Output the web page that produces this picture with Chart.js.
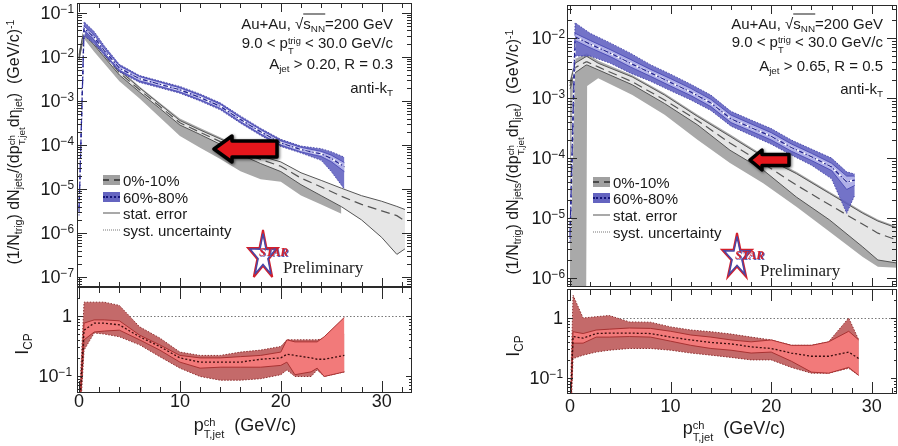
<!DOCTYPE html>
<html>
<head>
<meta charset="utf-8">
<title>Jet spectra and ICP</title>
<script src="https://cdn.jsdelivr.net/npm/chart.js@4.4.1/dist/chart.umd.min.js"></script>
<style>
  body { margin: 0; width: 898px; height: 446px; position: relative; overflow: hidden; background: #fff;
         font-family: "Liberation Sans", Arial, Helvetica, sans-serif; color: #1a1a1a; }
  canvas { position: absolute; }
  .t { position: absolute; white-space: nowrap; line-height: 1; }
  .tick { font-size: 18px; }
  .e { position: relative; top: -0.5em; font-size: 0.66em; }
  .sb { position: relative; top: 0.32em; font-size: 0.66em; }
  .ss { display: inline-block; vertical-align: -0.6em; font-size: 0.62em; line-height: 1.02; }
  .ss span { display: block; }
  .note { font-size: 15px; }
  .leg { font-size: 15px; }
  .ytitle { font-size: 16px; }
  .xtitle { font-size: 18px; }
  .sq { border-top: 1px solid #1a1a1a; }
  .star { font: italic bold 12px "Liberation Serif", serif; color: #d3202c; text-shadow: 1px 1px 0 #5a58b0; }
  .prel { font: 17px "Liberation Serif", "Times New Roman", serif; color: #222; }
</style>
</head>
<body>
<canvas id="topL" width="337" height="286" style="left:76px;top:2px"></canvas>
<canvas id="botL" width="337" height="108" style="left:76px;top:286px"></canvas>
<canvas id="topR" width="332" height="284" style="left:566px;top:4px"></canvas>
<canvas id="botR" width="332" height="107" style="left:566px;top:288px"></canvas>
<svg id="deco" width="898" height="446" style="position:absolute;left:0;top:0;pointer-events:none"></svg>
<script>
// ---- left: A_jet > 0.20, R = 0.3 ----
const L_GRAY_X = [0, 0.5, 1.5, 2.5, 4, 6, 8, 10, 12, 14, 16, 18, 20, 22, 24, 26, 28, 30, 31.5, 32.3];
const L_GRAY_MID = [1.0e-2, 3.7e-2, 2.1e-2, 1.12e-2, 4.4e-3, 1.8e-3, 7.6e-4, 3.2e-4, 1.95e-4, 1.2e-4, 7.2e-5, 4.7e-5, 3.3e-5, 1.78e-5, 1.12e-5, 6.9e-6, 4.5e-6, 3.2e-6, 2.5e-6, 1.9e-6];
const L_GRAY_STAT_HI = [1.12e-2, 4.15e-2, 2.36e-2, 1.26e-2, 4.9e-3, 2.0e-3, 8.5e-4, 3.6e-4, 2.2e-4, 1.38e-4, 8.5e-5, 5.65e-5, 4.15e-5, 2.35e-5, 1.58e-5, 1.05e-5, 7.1e-6, 5.3e-6, 4.05e-6, 3.45e-6];
const L_GRAY_STAT_LO = [8.9e-3, 3.3e-2, 1.87e-2, 1.0e-2, 3.9e-3, 1.6e-3, 6.8e-4, 2.85e-4, 1.74e-4, 1.04e-4, 6.1e-5, 3.8e-5, 2.5e-5, 1.26e-5, 7.1e-6, 4.0e-6, 2.0e-6, 8.0e-7, 3.3e-7, 4.4e-7];
const L_GRAY_SYS_X = [0, 0.5, 1.5, 2.5, 4, 6, 8, 10, 12, 14, 16, 18, 20, 22, 24, 26];
const L_GRAY_SYS_HI = [1.32e-2, 4.9e-2, 2.64e-2, 1.41e-2, 5.5e-3, 2.15e-3, 9.1e-4, 4.0e-4, 2.45e-4, 1.5e-4, 9.1e-5, 5.9e-5, 4.15e-5, 2.27e-5, 1.41e-5, 8.7e-6];
const L_GRAY_SYS_LO = [7.6e-3, 2.6e-2, 1.32e-2, 7.1e-3, 2.8e-3, 1.14e-3, 4.3e-4, 1.6e-4, 8.7e-5, 4.8e-5, 2.55e-5, 1.67e-5, 1.48e-5, 7.2e-6, 4.45e-6, 2.75e-6];

const L_BLUE_X = [0, 0.5, 1.5, 2.5, 4, 6, 8, 10, 12, 14, 16, 18, 20, 22, 24, 25, 26.3];
const L_BLUE_MID = [3.2e-6, 4.5e-2, 2.8e-2, 1.4e-2, 5.6e-3, 3.2e-3, 2.4e-3, 1.8e-3, 1.2e-3, 7.6e-4, 3.8e-4, 2.0e-4, 1.12e-4, 7.9e-5, 6.3e-5, 5.0e-5, 3.2e-5];
const L_BLUE_STAT_HI = [3.5e-6, 5.0e-2, 3.1e-2, 1.57e-2, 6.3e-3, 3.6e-3, 2.7e-3, 2.0e-3, 1.35e-3, 8.5e-4, 4.25e-4, 2.25e-4, 1.25e-4, 8.9e-5, 7.2e-5, 5.9e-5, 4.0e-5];
const L_BLUE_STAT_LO = [2.9e-6, 4.0e-2, 2.5e-2, 1.25e-2, 5.0e-3, 2.85e-3, 2.15e-3, 1.6e-3, 1.07e-3, 6.8e-4, 3.4e-4, 1.78e-4, 1.0e-4, 7.0e-5, 5.5e-5, 4.2e-5, 2.5e-5];
const L_BLUE_SYS_HI = [4.0e-6, 6.3e-2, 3.8e-2, 1.8e-2, 6.8e-3, 3.8e-3, 2.85e-3, 2.15e-3, 1.45e-3, 9.1e-4, 4.6e-4, 2.4e-4, 1.35e-4, 9.5e-5, 8.3e-5, 7.1e-5, 5.3e-5];
const L_BLUE_SYS_LO = [2.5e-6, 3.0e-2, 2.0e-2, 1.1e-2, 4.6e-3, 2.65e-3, 2.0e-3, 1.5e-3, 1.0e-3, 6.3e-4, 3.15e-4, 1.65e-4, 9.3e-5, 6.6e-5, 4.5e-5, 2.5e-5, 1.0e-5];

const L_ICP_X = [0, 0.5, 1.5, 2.5, 4, 6, 8, 10, 12, 14, 16, 18, 20, 20.6, 21.4, 23, 23.6, 24.3, 26.3];
const L_ICP_MID = [0.02, 0.58, 0.76, 0.76, 0.71, 0.45, 0.31, 0.2, 0.17, 0.17, 0.17, 0.19, 0.2, 0.23, 0.22, 0.2, 0.19, 0.19, 0.22];
const L_ICP_SYS_HI = [0.03, 1.7, 1.7, 1.7, 1.5, 0.66, 0.43, 0.25, 0.22, 0.22, 0.25, 0.27, 0.31, 0.4, 0.4, 0.4, 0.4, 0.42, 0.5];
const L_ICP_SYS_LO = [0.01, 0.27, 0.52, 0.5, 0.45, 0.33, 0.21, 0.135, 0.098, 0.085, 0.085, 0.09, 0.105, 0.126, 0.098, 0.098, 0.126, 0.098, 0.117];
const L_ICP_STAT_HI = [0.02, 0.76, 0.86, 0.86, 0.83, 0.48, 0.33, 0.22, 0.2, 0.2, 0.21, 0.22, 0.25, 0.4, 0.37, 0.37, 0.37, 0.45, 0.95];
const L_ICP_STAT_LO = [0.015, 0.4, 0.54, 0.56, 0.58, 0.4, 0.27, 0.17, 0.135, 0.14, 0.14, 0.14, 0.15, 0.17, 0.105, 0.117, 0.135, 0.098, 0.117];

// ---- right: A_jet > 0.65, R = 0.5 ----
const R_GRAY_X = [0, 0.5, 1.6, 1.7, 2.8, 6.2, 9.4, 12.7, 15.9, 19.2, 22.5, 25.8, 29.1, 30.6, 32.5];
const R_GRAY_MID = [1.58e-3, 3.2e-3, 4.0e-3, 4.0e-3, 3.3e-3, 1.86e-3, 9.3e-4, 4.2e-4, 1.78e-4, 8.1e-5, 3.55e-5, 1.66e-5, 7.9e-6, 5.6e-6, 4.3e-6];
const R_GRAY_STAT_HI = [1.78e-3, 3.8e-3, 4.9e-3, 4.9e-3, 3.8e-3, 2.24e-3, 1.12e-3, 4.9e-4, 2.3e-4, 1.05e-4, 5.5e-5, 2.57e-5, 1.2e-5, 8.9e-6, 6.8e-6];
const R_GRAY_STAT_LO = [1.41e-3, 2.63e-3, 3.55e-3, 3.55e-3, 2.95e-3, 1.66e-3, 8.1e-4, 3.55e-4, 1.35e-4, 6.3e-5, 2.24e-5, 9.3e-6, 3.3e-6, 2.0e-6, 1.78e-6];
const R_GRAY_SYS_HI = [2.0e-3, 4.47e-3, 5.5e-3, 5.5e-3, 4.17e-3, 2.4e-3, 1.2e-3, 5.25e-4, 2.5e-4, 1.12e-4, 5.9e-5, 2.75e-5, 1.29e-5, 9.5e-6, 7.2e-6];
const R_GRAY_SYS_LO = [3.2e-7, 3.2e-7, 3.2e-7, 1.58e-3, 2.14e-3, 1.12e-3, 5.25e-4, 2.0e-4, 8.3e-5, 3.8e-5, 1.55e-5, 5.9e-6, 2.24e-6, 1.55e-6, 1.48e-6];

const R_BLUE_X = [0, 0.5, 2, 4, 6, 8, 10, 12, 14, 16, 18, 20, 22, 24, 26, 27.5, 28.3];
const R_BLUE_MID = [5.0e-6, 1.05e-2, 7.9e-3, 5.6e-3, 3.8e-3, 2.63e-3, 1.82e-3, 1.26e-3, 8.3e-4, 4.5e-4, 3.2e-4, 2.3e-4, 1.5e-4, 1.05e-4, 7.1e-5, 4.0e-5, 4.3e-5];
const R_BLUE_STAT_HI = [5.5e-6, 1.2e-2, 9.1e-3, 6.4e-3, 4.4e-3, 3.0e-3, 2.1e-3, 1.45e-3, 9.5e-4, 5.2e-4, 3.7e-4, 2.65e-4, 1.72e-4, 1.2e-4, 8.2e-5, 5.0e-5, 5.0e-5];
const R_BLUE_STAT_LO = [4.5e-6, 9.1e-3, 6.9e-3, 4.9e-3, 3.3e-3, 2.3e-3, 1.58e-3, 1.1e-3, 7.2e-4, 3.9e-4, 2.8e-4, 2.0e-4, 1.3e-4, 9.1e-5, 6.2e-5, 3.0e-5, 3.5e-5];
const R_BLUE_SYS_HI = [6.0e-6, 1.8e-2, 1.2e-2, 8.3e-3, 5.6e-3, 3.6e-3, 2.5e-3, 1.7e-3, 1.12e-3, 6.0e-4, 4.3e-4, 3.1e-4, 2.0e-4, 1.41e-4, 1.0e-4, 5.9e-5, 5.4e-5];
const R_BLUE_SYS_LO = [4.0e-6, 5.0e-3, 5.0e-3, 3.8e-3, 2.6e-3, 1.9e-3, 1.32e-3, 9.3e-4, 6.2e-4, 3.4e-4, 2.4e-4, 1.7e-4, 1.12e-4, 7.6e-5, 4.5e-5, 1.2e-5, 2.4e-5];

const R_ICP_X = [0, 0.3, 1.3, 2.6, 3.9, 5.9, 8, 10, 12, 14, 16, 18, 20, 22, 24, 25.7, 27.7, 28.7];
const R_ICP_MID = [0.02, 0.49, 0.46, 0.55, 0.56, 0.56, 0.55, 0.48, 0.43, 0.39, 0.37, 0.33, 0.31, 0.26, 0.23, 0.23, 0.27, 0.21];
const R_ICP_SYS_HI = [0.03, 2.4, 1.0, 1.05, 1.1, 0.86, 0.85, 0.71, 0.63, 0.59, 0.54, 0.48, 0.43, 0.35, 0.35, 0.4, 1.0, 0.43];
const R_ICP_SYS_LO = [0.01, 0.21, 0.24, 0.27, 0.29, 0.31, 0.31, 0.29, 0.26, 0.24, 0.22, 0.2, 0.2, 0.15, 0.12, 0.12, 0.145, 0.11];
const R_ICP_STAT_HI = [0.02, 0.59, 0.55, 0.63, 0.65, 0.68, 0.67, 0.6, 0.52, 0.48, 0.43, 0.4, 0.43, 0.35, 0.35, 0.4, 0.6, 0.43];
const R_ICP_STAT_LO = [0.015, 0.38, 0.38, 0.48, 0.48, 0.49, 0.48, 0.41, 0.35, 0.31, 0.29, 0.26, 0.27, 0.19, 0.125, 0.12, 0.15, 0.11];

// axes and labels
const X_TICKS = [0, 10, 20, 30];
const TOP_L_EXP = [-1, -2, -3, -4, -5, -6, -7];
const TOP_R_EXP = [-2, -3, -4, -5, -6];
const ICP_TICKS = [1, 0.1];
const ICP_REF = 1;
const LEGEND_LABELS = ['0%-10%', '60%-80%', 'stat. error', 'syst. uncertainty'];

const GRAY_SYS = '#a9a9a9', GRAY_STAT = '#e6e6e6', GRAY_LINE = '#555555';
const BLUE_SYS = 'rgba(96, 96, 192, 0.88)', BLUE_STAT = 'rgba(180, 180, 234, 0.95)', BLUE_LINE = '#262690';
const RED_SYS = '#c46a6a', RED_STAT = '#f27a7a', RED_LINE = '#a83232';

let layer = 1000;
function series(list, xs, ys, opt) {
  list.push(Object.assign({
    data: xs.map((x, i) => ({ x: x, y: ys[i] })),
    pointRadius: 0, tension: 0, fill: false, borderWidth: 1,
    borderColor: 'transparent', order: layer--
  }, opt));
}
function band(list, xs, hi, lo, color, edge) {
  series(list, xs, hi, Object.assign({ fill: '+1', backgroundColor: color }, edge));
  series(list, xs, lo, Object.assign({}, edge));
}

const axesDeco = {
  id: 'axesDeco',
  beforeDatasetsDraw(chart, args, o) {
    if (o.refLine == null) return;
    const { ctx, chartArea: a } = chart;
    const y = Math.round(chart.scales.y.getPixelForValue(o.refLine)) + 0.5;
    ctx.save();
    ctx.strokeStyle = '#777'; ctx.lineWidth = 1; ctx.setLineDash([1.5, 2]);
    ctx.beginPath(); ctx.moveTo(a.left, y); ctx.lineTo(a.right, y); ctx.stroke();
    ctx.restore();
  },
  afterDatasetsDraw(chart, args, o) {
    const { ctx, chartArea: a, scales: { x, y } } = chart;
    ctx.save();
    ctx.strokeStyle = '#2a2a2a'; ctx.lineWidth = 1;
    ctx.strokeRect(a.left + 0.5, a.top + 0.5, a.right - a.left - 1, a.bottom - a.top - 1);
    ctx.beginPath();
    for (let v = 0; v <= x.max; v += 2) {
      const px = Math.round(x.getPixelForValue(v)) + 0.5;
      const len = v % 10 === 0 ? o.xMajor : o.xMinor;
      ctx.moveTo(px, a.bottom); ctx.lineTo(px, a.bottom - len);
      ctx.moveTo(px, a.top); ctx.lineTo(px, a.top + len);
    }
    const e0 = Math.floor(Math.log10(y.min)), e1 = Math.ceil(Math.log10(y.max));
    for (let e = e0; e <= e1; e++) {
      for (let m = 1; m < 10; m++) {
        const v = m * Math.pow(10, e);
        if (v < y.min || v > y.max) continue;
        const py = Math.round(y.getPixelForValue(v)) + 0.5;
        const len = m === 1 ? o.yMajor : o.yMinor;
        ctx.moveTo(a.left, py); ctx.lineTo(a.left + len, py);
        ctx.moveTo(a.right, py); ctx.lineTo(a.right - len, py);
      }
    }
    ctx.stroke();
    ctx.restore();
  }
};

function makeChart(id, xr, yr, datasets, deco) {
  return new Chart(document.getElementById(id), {
    type: 'line',
    data: { datasets: datasets },
    options: {
      responsive: false, animation: false, events: [], devicePixelRatio: 1,
      layout: { padding: 1 },
      scales: {
        x: { type: 'linear', min: xr[0], max: xr[1], display: false },
        y: { type: 'logarithmic', min: yr[0], max: yr[1], display: false }
      },
      plugins: { legend: { display: false }, tooltip: { enabled: false }, axesDeco: deco }
    },
    plugins: [axesDeco]
  });
}

function spectrumSets(g, b) {
  const s = [];
  band(s, g.sysX, g.sysHi, g.sysLo, GRAY_SYS, { borderWidth: 0 });
  band(s, g.x, g.statHi, g.statLo, GRAY_STAT, { borderColor: GRAY_LINE, borderWidth: 1 });
  series(s, g.x, g.mid, { borderColor: GRAY_LINE, borderWidth: 1.2, borderDash: [9, 5] });
  band(s, b.x, b.sysHi, b.sysLo, BLUE_SYS, { borderColor: '#3434a0', borderWidth: 0.8, borderDash: [1.5, 1.5] });
  band(s, b.x, b.statHi, b.statLo, BLUE_STAT, { borderColor: '#4040b0', borderWidth: 0.8 });
  series(s, b.x, b.mid, { borderColor: '#ffffff', borderWidth: 2, borderDash: [4, 3] });
  series(s, b.x, b.mid, { borderColor: BLUE_LINE, borderWidth: 1.2, borderDash: [5, 2, 1.5, 2] });
  return s;
}
function icpSets(r) {
  const s = [];
  band(s, r.x, r.sysHi, r.sysLo, RED_SYS, { borderColor: '#8e3030', borderWidth: 1, borderDash: [1.5, 1.5] });
  band(s, r.x, r.statHi, r.statLo, RED_STAT, { borderColor: RED_LINE, borderWidth: 1 });
  series(s, r.x, r.mid, { borderColor: '#3b0d0d', borderWidth: 1.3, borderDash: [2, 2] });
  return s;
}

const topDeco = { xMajor: 9, xMinor: 5, yMajor: 10, yMinor: 5 };
const botDeco = { xMajor: 12, xMinor: 6, yMajor: 6, yMinor: 3, refLine: ICP_REF };

const cTL = makeChart('topL', [-0.2, 33.0], [6.3e-8, 0.168], spectrumSets(
  { x: L_GRAY_X, mid: L_GRAY_MID, statHi: L_GRAY_STAT_HI, statLo: L_GRAY_STAT_LO, sysX: L_GRAY_SYS_X, sysHi: L_GRAY_SYS_HI, sysLo: L_GRAY_SYS_LO },
  { x: L_BLUE_X, mid: L_BLUE_MID, statHi: L_BLUE_STAT_HI, statLo: L_BLUE_STAT_LO, sysHi: L_BLUE_SYS_HI, sysLo: L_BLUE_SYS_LO }), topDeco);
const cBL = makeChart('botL', [-0.2, 33.0], [0.052, 3.04], icpSets(
  { x: L_ICP_X, mid: L_ICP_MID, statHi: L_ICP_STAT_HI, statLo: L_ICP_STAT_LO, sysHi: L_ICP_SYS_HI, sysLo: L_ICP_SYS_LO }), botDeco);
const cTR = makeChart('topR', [-0.3, 32.5], [7.1e-7, 0.0355], spectrumSets(
  { x: R_GRAY_X, mid: R_GRAY_MID, statHi: R_GRAY_STAT_HI, statLo: R_GRAY_STAT_LO, sysX: R_GRAY_X, sysHi: R_GRAY_SYS_HI, sysLo: R_GRAY_SYS_LO },
  { x: R_BLUE_X, mid: R_BLUE_MID, statHi: R_BLUE_STAT_HI, statLo: R_BLUE_STAT_LO, sysHi: R_BLUE_SYS_HI, sysLo: R_BLUE_SYS_LO }), topDeco);
const cBR = makeChart('botR', [-0.3, 32.5], [0.054, 3.04], icpSets(
  { x: R_ICP_X, mid: R_ICP_MID, statHi: R_ICP_STAT_HI, statLo: R_ICP_STAT_LO, sysHi: R_ICP_SYS_HI, sysLo: R_ICP_SYS_LO }), botDeco);

// ---- text, placed from the chart scales ----
function put(html, x, y, cls, anchor, rot) {
  const d = document.createElement('div');
  d.className = 't ' + cls;
  d.innerHTML = html;
  d.style.left = x + 'px';
  d.style.top = y + 'px';
  const tx = anchor === 'r' ? '-100%' : anchor === 'c' ? '-50%' : '0';
  d.style.transform = 'translate(' + tx + ',-50%)' + (rot ? ' rotate(-90deg)' : '');
  document.body.appendChild(d);
  return d;
}
const pow10 = e => '10<span class="e">\u2212' + Math.abs(e) + '</span>';
function yLabels(chart, vals, htmls, right) {
  const top = chart.canvas.offsetTop;
  vals.forEach((v, i) => put(htmls[i], right, top + chart.scales.y.getPixelForValue(v), 'tick', 'r'));
}
function xLabels(chart, yc) {
  const left = chart.canvas.offsetLeft;
  X_TICKS.forEach(v => put(String(v), left + chart.scales.x.getPixelForValue(v), yc, 'tick', 'c'));
}
yLabels(cTL, TOP_L_EXP.map(e => Math.pow(10, e)), TOP_L_EXP.map(pow10), 74);
yLabels(cTR, TOP_R_EXP.map(e => Math.pow(10, e)), TOP_R_EXP.map(pow10), 565);
yLabels(cBL, ICP_TICKS, ['1', pow10(-1)], 72);
yLabels(cBR, ICP_TICKS, ['1', pow10(-1)], 563);
xLabels(cBL, 401);
xLabels(cBR, 406);

const PT = 'p<span class="ss"><span>ch</span><span>T,jet</span></span>';
const YT = '(1/N<span class="sb">trig</span>) dN<span class="sb">jets</span>/(d' + PT + 'd\u03b7<span class="sb">jet</span>)&nbsp;&nbsp;(GeV/c)<span class="e">-1</span>';
put(YT, 17, 142, 'ytitle', 'c', true);
put(YT, 516, 152, 'ytitle', 'c', true);
put('I<span class="sb">CP</span>', 22, 344, 'xtitle', 'c', true);
put('I<span class="sb">CP</span>', 513, 346, 'xtitle', 'c', true);
put(PT + '&nbsp;&nbsp;(GeV/c)', 245, 428, 'xtitle', 'c');
put(PT + '&nbsp;&nbsp;(GeV/c)', 734, 431, 'xtitle', 'c');

function notes(right, ys, ajet) {
  put('Au+Au, \u221a<span class="sq">s<span class="sb">NN</span></span>=200 GeV', right, ys[0], 'note', 'r');
  put('9.0 &lt; p<span class="ss"><span>trig</span><span>T</span></span> &lt; 30.0 GeV/c', right, ys[1], 'note', 'r');
  put('A<span class="sb">jet</span> &gt; ' + ajet, right, ys[2], 'note', 'r');
  put('anti-k<span class="sb">T</span>', right, ys[3], 'note', 'r');
}
notes(393, [23, 46, 63, 87], '0.20, R = 0.3');
notes(883, [23, 45, 65, 88], '0.65, R = 0.5');

function legend(x, ys) {
  const sw = [
    '<div style="width:17px;height:10px;background:#a0a0a0;position:relative"><div style="position:absolute;left:0;right:0;top:4px;border-top:2px dashed #4a4a4a"></div></div>',
    '<div style="width:17px;height:10px;background:#6464c0;position:relative"><div style="position:absolute;left:0;right:0;top:4px;border-top:2px dotted #15157a"></div></div>',
    '<div style="width:17px;border-top:1px solid #555"></div>',
    '<div style="width:17px;border-top:1px dotted #777"></div>'
  ];
  LEGEND_LABELS.forEach((lab, i) => {
    put(sw[i], x, ys[i], '', 'l');
    put(lab, x + 20, ys[i], 'leg', 'l');
  });
}
legend(103, [180, 197, 213, 230]);
legend(593, [182, 198, 215, 232]);

// ---- STAR logo and arrows ----
const deco = document.getElementById('deco');
function starPts(k) {
  const p = [];
  for (let i = 0; i < 10; i++) {
    const r = (i % 2 ? 0.38 : 1) * k, a = -Math.PI / 2 + i * Math.PI / 5;
    p.push((r * Math.cos(a)).toFixed(3) + ',' + (r * Math.sin(a)).toFixed(3));
  }
  return p.join(' ');
}
function star(x, y, w, h) {
  return '<svg x="' + x + '" y="' + y + '" width="' + w + '" height="' + h + '" viewBox="-0.951 -1 1.902 1.809" preserveAspectRatio="none" overflow="visible">' +
    '<polygon points="' + starPts(1) + '" fill="none" stroke="#d3202c" stroke-width="2" vector-effect="non-scaling-stroke"/>' +
    '<polygon points="' + starPts(0.86) + '" fill="none" stroke="#4848a8" stroke-width="1.5" vector-effect="non-scaling-stroke"/></svg>';
}
function arrow(tip, yc, head, end, hh, bh) {
  const p = [[tip, yc], [head, yc - hh], [head, yc - bh], [end, yc - bh], [end, yc + bh], [head, yc + bh], [head, yc + hh]];
  return '<polygon points="' + p.map(q => q.join(',')).join(' ') + '" fill="#e5161c" stroke="#000" stroke-width="3.5" stroke-linejoin="round" style="filter:drop-shadow(1px 1px 1.5px rgba(0,0,0,0.6))"/>';
}
deco.innerHTML = star(248, 230, 30, 47) + star(722, 233, 30, 44) +
  arrow(214, 149, 232, 277, 13, 8) + arrow(750, 160, 762, 789, 10, 5.5);
put('STAR', 259, 252, 'star', 'l');
put('Preliminary', 283, 268, 'prel', 'l');
put('STAR', 735, 255, 'star', 'l');
put('Preliminary', 760, 271, 'prel', 'l');
</script>
</body>
</html>
